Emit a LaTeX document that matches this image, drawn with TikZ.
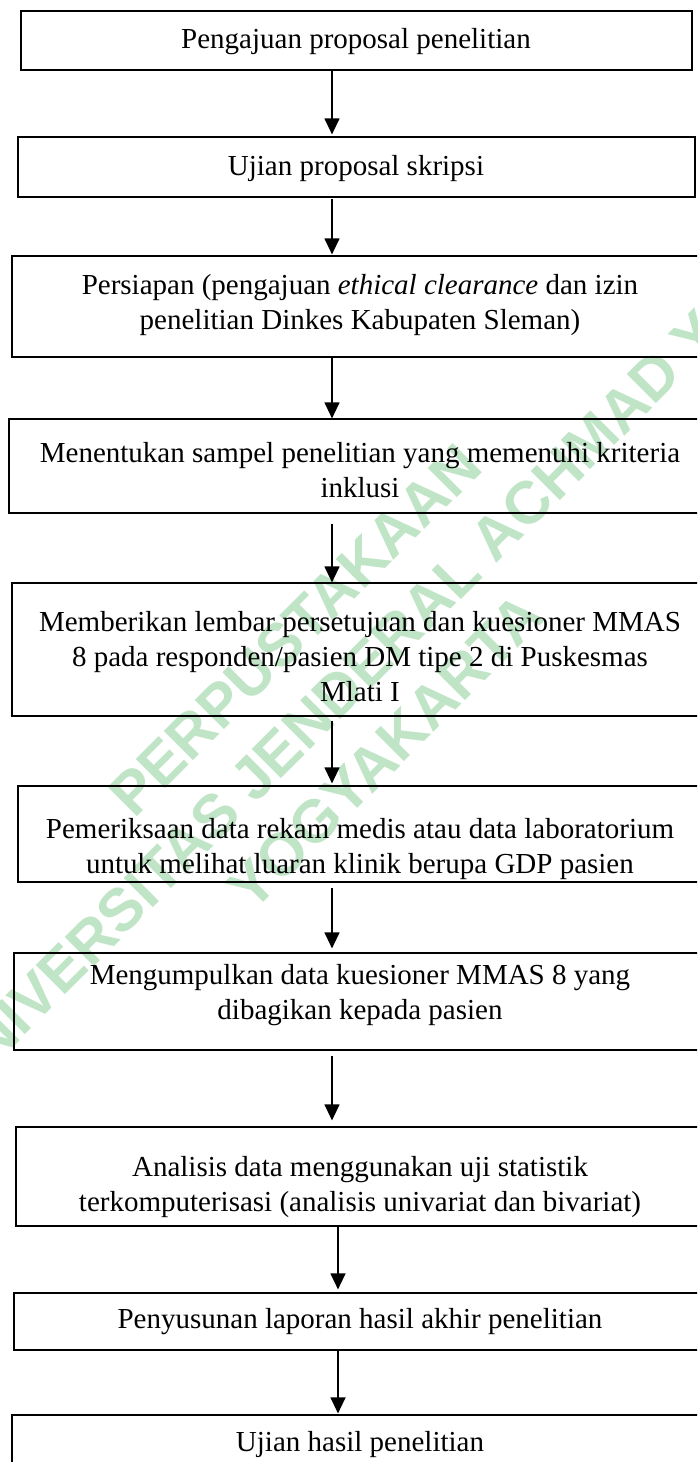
\documentclass[tikz,border=0pt]{standalone}
\usepackage{fontspec}
\setmainfont{Liberation Serif}
\newfontfamily\wmfont{Liberation Sans}
\usetikzlibrary{arrows.meta}
\definecolor{wmgreen}{RGB}{192,229,198}
\begin{document}
\begin{tikzpicture}[x=1pt,y=-1pt,
  box/.style={draw=black,line width=1.2pt,rectangle,inner sep=0pt},
  txt/.style={align=center,inner sep=0pt,font=\fontsize{29}{35}\selectfont},
  arr/.style={line width=1.2pt,-{Triangle[length=16pt,width=15pt]}},
  wm/.style={text=wmgreen,rotate=45,inner sep=0pt,font=\wmfont\bfseries\fontsize{60}{72}\selectfont}]
\useasboundingbox (0,0) rectangle (697,1462);
\clip (0,0) rectangle (697,1462);
\fill[white] (0,0) rectangle (697,1462);
% watermark
\node[wm] (w1) at (295,630) {PERPUSTAKAAN};
\node[wm] (w2) at (363,668) {UNIVERSITAS JENDERAL ACHMAD YANI};
\node[wm] (w3) at (385,752) {YOGYAKARTA};
% boxes
\node[box,minimum width=671pt,minimum height=59pt] (b1) at (356.5,40.5) {};
\node[box,minimum width=677pt,minimum height=60pt] (b2) at (356.5,167) {};
\node[box,minimum width=703pt,minimum height=101pt] (b3) at (363.5,306.5) {};
\node[box,minimum width=706pt,minimum height=94pt] (b4) at (362,466) {};
\node[box,minimum width=703pt,minimum height=133pt] (b5) at (363.5,649.5) {};
\node[box,minimum width=697pt,minimum height=96pt] (b6) at (366.5,834) {};
\node[box,minimum width=701pt,minimum height=97pt] (b7) at (364.5,1001.5) {};
\node[box,minimum width=699pt,minimum height=99pt] (b8) at (365.5,1176.5) {};
\node[box,minimum width=701pt,minimum height=57pt] (b9) at (364.5,1321.5) {};
\node[box,minimum width=703pt,minimum height=85pt] (b10) at (363.5,1457.5) {};
% texts
\node[txt] (t1) at (356,42) {Pengajuan proposal penelitian};
\node[txt] (t2) at (356,169) {Ujian proposal skripsi};
\node[txt] (t3) at (360,305) {Persiapan (pengajuan \textit{ethical clearance} dan izin\\penelitian Dinkes Kabupaten Sleman)};
\node[txt] (t4) at (360,470) {Menentukan sampel penelitian yang memenuhi kriteria\\inklusi};
\node[txt] (t5) at (360,657) {Memberikan lembar persetujuan dan kuesioner MMAS\\8 pada responden/pasien DM tipe 2 di Puskesmas\\Mlati I};
\node[txt] (t6) at (360,849) {Pemeriksaan data rekam medis atau data laboratorium\\untuk melihat luaran klinik berupa GDP pasien};
\node[txt] (t7) at (360,995) {Mengumpulkan data kuesioner MMAS 8 yang\\dibagikan kepada pasien};
\node[txt] (t8) at (360,1187) {Analisis data menggunakan uji statistik\\terkomputerisasi (analisis univariat dan bivariat)};
\node[txt] (t9) at (360,1322) {Penyusunan laporan hasil akhir penelitian};
\node[txt] (t10) at (360,1445) {Ujian hasil penelitian};
% arrows
\coordinate (ax) at (332,0);
\coordinate (ay) at (338,0);
\draw[arr,shorten >=2pt] (b1.south -| ax) -- (b2.north -| ax);
\draw[arr,shorten <=1pt,shorten >=1pt] (b2.south -| ax) -- (b3.north -| ax);
\draw[arr] (b3.south -| ax) -- (b4.north -| ax);
\draw[arr,shorten <=10pt] (b4.south -| ax) -- (b5.north -| ax);
\draw[arr,shorten <=4pt,shorten >=2pt] (b5.south -| ax) -- (b6.north -| ax);
\draw[arr,shorten <=5pt,shorten >=4pt] (b6.south -| ax) -- (b7.north -| ax);
\draw[arr,shorten <=5pt,shorten >=6pt] (b7.south -| ax) -- (b8.north -| ax);
\draw[arr,shorten >=3pt] (b8.south -| ay) -- (b9.north -| ay);
\draw[arr,shorten >=1pt] (b9.south -| ay) -- (b10.north -| ay);
\end{tikzpicture}
\end{document}
